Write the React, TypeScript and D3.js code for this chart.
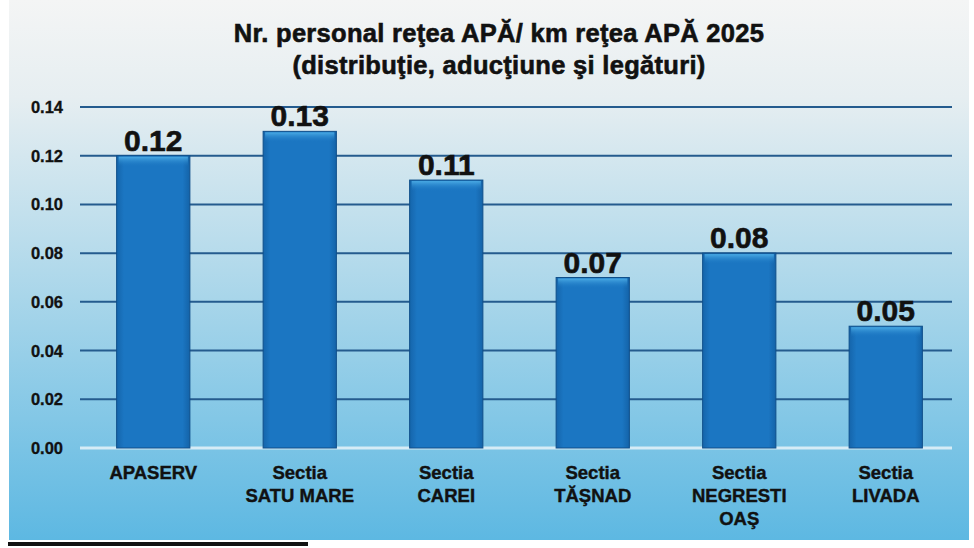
import React, { useEffect, useRef } from 'react';
import * as d3 from 'd3';

const categories = [
  ['APASERV'],
  ['Sectia', 'SATU MARE'],
  ['Sectia', 'CAREI'],
  ['Sectia', 'TĂŞNAD'],
  ['Sectia', 'NEGRESTI', 'OAŞ'],
  ['Sectia', 'LIVADA'],
];
const values = [0.12, 0.13, 0.11, 0.07, 0.08, 0.05];
const yTicks = [0, 0.02, 0.04, 0.06, 0.08, 0.1, 0.12, 0.14];
const titleLines = ['Nr. personal reţea APĂ/ km reţea APĂ 2025', '(distribuţie, aducţiune şi legături)'];

const FONT = 'Liberation Sans, Arial, sans-serif';

export default function App() {
  const ref = useRef<SVGSVGElement>(null);

  useEffect(() => {
    const W = 974, H = 548;
    const margin = { top: 107, right: 15, bottom: 100, left: 80 };
    const svg = d3.select(ref.current);
    svg.selectAll('*').remove();

    const defs = svg.append('defs');
    const bg = defs.append('linearGradient').attr('id', 'bg').attr('x1', 0).attr('y1', 0).attr('x2', 0).attr('y2', 1);
    bg.append('stop').attr('offset', '0%').attr('stop-color', '#f4f5f5');
    bg.append('stop').attr('offset', '18%').attr('stop-color', '#e6eef1');
    bg.append('stop').attr('offset', '55%').attr('stop-color', '#a9d6ea');
    bg.append('stop').attr('offset', '100%').attr('stop-color', '#5db8e2');

    const barG = defs.append('linearGradient').attr('id', 'bar').attr('x1', 0).attr('y1', 0).attr('x2', 1).attr('y2', 0);
    barG.append('stop').attr('offset', '0%').attr('stop-color', '#1565ab');
    barG.append('stop').attr('offset', '10%').attr('stop-color', '#1b76c2');
    barG.append('stop').attr('offset', '90%').attr('stop-color', '#1b76c2');
    barG.append('stop').attr('offset', '100%').attr('stop-color', '#1463a8');

    const topG = defs.append('linearGradient').attr('id', 'bartop').attr('x1', 0).attr('y1', 0).attr('x2', 0).attr('y2', 1);
    topG.append('stop').attr('offset', '0%').attr('stop-color', '#4fb0e8').attr('stop-opacity', 0.9);
    topG.append('stop').attr('offset', '100%').attr('stop-color', '#1b76c2').attr('stop-opacity', 0);

    // background
    svg.append('rect').attr('x', 0).attr('y', 0).attr('width', W).attr('height', H).attr('fill', '#ffffff');
    svg.append('rect').attr('x', 9).attr('y', 0).attr('width', 960).attr('height', 540).attr('fill', 'url(#bg)');
    svg.append('rect').attr('x', 8).attr('y', 542).attr('width', 300).attr('height', 4).attr('fill', '#111');

    const x = d3.scaleBand<number>()
      .domain(d3.range(values.length))
      .range([margin.left, W - margin.right])
      .paddingInner(0.5)
      .paddingOuter(0.25);

    const y = d3.scaleLinear()
      .domain([0, 0.14])
      .range([448, 107]);

    // gridlines
    svg.append('g').selectAll('line')
      .data(yTicks)
      .enter().append('line')
      .attr('x1', margin.left)
      .attr('x2', 952)
      .attr('y1', d => y(d))
      .attr('y2', d => y(d))
      .attr('stroke', d => d === 0 ? '#d6ecf6' : '#245b8e')
      .attr('stroke-width', d => d === 0 ? 3 : 2);

    // y labels
    svg.append('g').selectAll('text')
      .data(yTicks)
      .enter().append('text')
      .attr('x', 63)
      .attr('y', d => y(d) + 6)
      .attr('text-anchor', 'end')
      .attr('font-family', FONT)
      .attr('font-weight', 'bold')
      .attr('font-size', 16.5)
      .attr('fill', '#111')
      .attr('stroke', '#111')
      .attr('stroke-width', 0.3)
      .text(d => d3.format('.2f')(d));

    // bars
    const bars = svg.append('g').selectAll('g')
      .data(values)
      .enter().append('g');

    bars.append('rect')
      .attr('x', (d, i) => x(i)!)
      .attr('y', d => y(d))
      .attr('width', x.bandwidth())
      .attr('height', d => y(0) - y(d))
      .attr('fill', 'url(#bar)')
      .attr('stroke', '#0f4f8a')
      .attr('stroke-width', 1);

    bars.append('rect')
      .attr('x', (d, i) => x(i)! + 2)
      .attr('y', d => y(d) + 1)
      .attr('width', x.bandwidth() - 4)
      .attr('height', 10)
      .attr('fill', 'url(#bartop)');

    // value labels
    svg.append('g').selectAll('text')
      .data(values)
      .enter().append('text')
      .attr('x', (d, i) => x(i)! + x.bandwidth() / 2)
      .attr('y', d => y(d) - 5)
      .attr('text-anchor', 'middle')
      .attr('font-family', FONT)
      .attr('font-weight', 'bold')
      .attr('font-size', 30)
      .attr('fill', '#111')
      .attr('stroke', '#111')
      .attr('stroke-width', 0.6)
      .text(d => d3.format('.2f')(d));

    // category labels
    const cats = svg.append('g').selectAll('text')
      .data(categories)
      .enter().append('text')
      .attr('x', (d, i) => x(i)! + x.bandwidth() / 2)
      .attr('y', 479)
      .attr('text-anchor', 'middle')
      .attr('font-family', FONT)
      .attr('font-weight', 'bold')
      .attr('font-size', 18.5)
      .attr('fill', '#111')
      .attr('stroke', '#111')
      .attr('stroke-width', 0.4);
    cats.selectAll('tspan')
      .data(d => d)
      .enter().append('tspan')
      .attr('x', function () { return (this.parentNode as SVGTextElement).getAttribute('x'); })
      .attr('dy', (d, i) => i === 0 ? 0 : 23)
      .text(d => d);

    // title
    svg.append('g').selectAll('text')
      .data(titleLines)
      .enter().append('text')
      .attr('x', 499)
      .attr('y', (d, i) => 42 + i * 32)
      .attr('text-anchor', 'middle')
      .attr('font-family', FONT)
      .attr('font-weight', 'bold')
      .attr('font-size', 25.5)
      .attr('fill', '#111')
      .attr('stroke', '#111')
      .attr('stroke-width', 0.6)
      .attr('letter-spacing', 0.3)
      .text(d => d);
  }, []);

  return (
    <svg ref={ref} width={974} height={548}
      style={{ position: 'absolute', left: 0, top: 0, display: 'block' }} />
  );
}
